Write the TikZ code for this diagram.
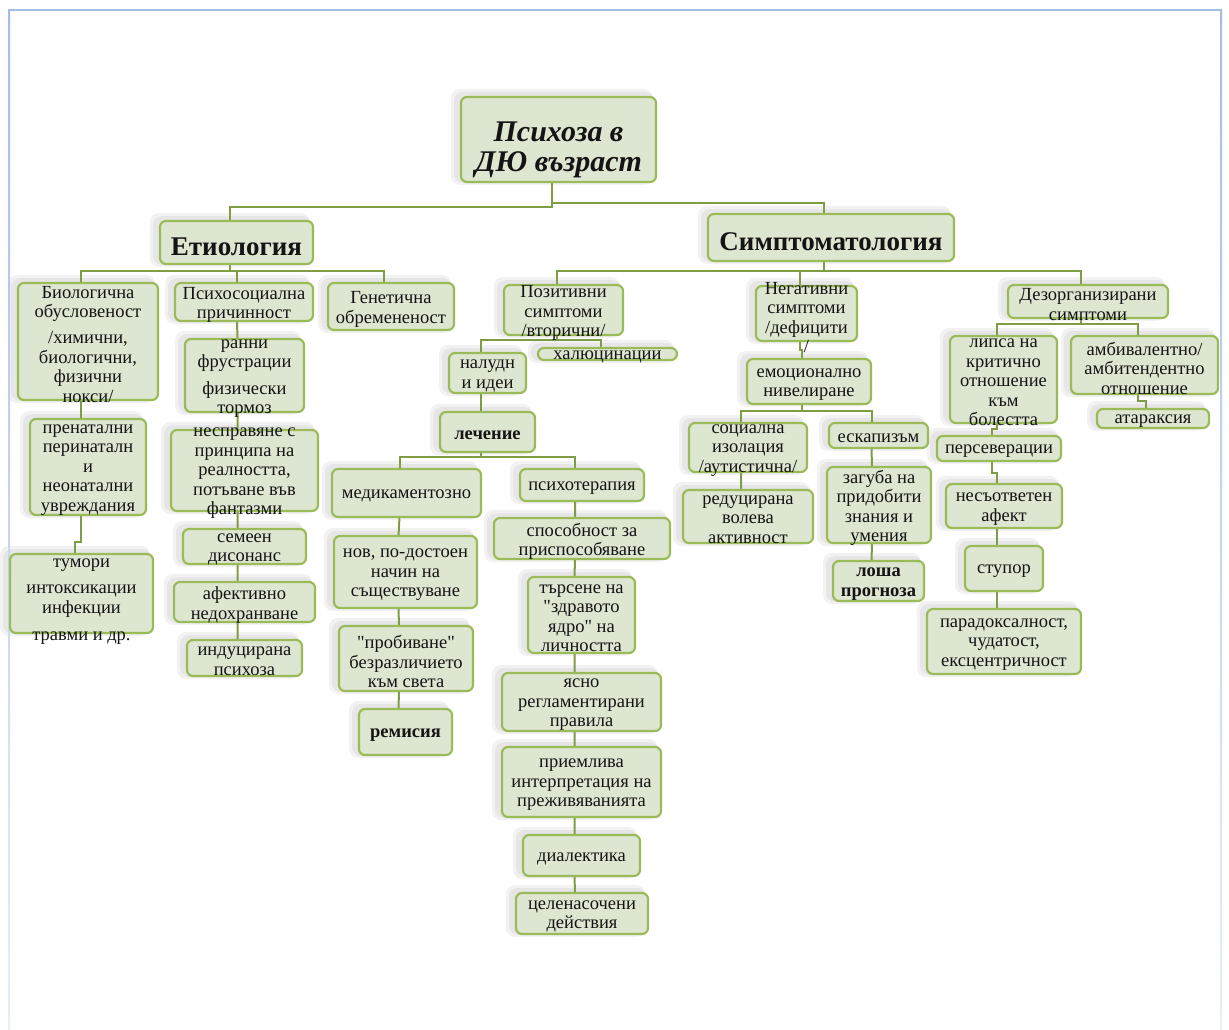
\documentclass[tikz,border=0pt]{standalone}
\usepackage{fontspec}
\setmainfont{Liberation Serif}
\newfontfamily\qfont{Liberation Serif}
\newcommand\dq{{\qfont"}}
\usetikzlibrary{calc}
\pgfdeclarelayer{sh}
\pgfdeclarelayer{bg}
\pgfsetlayers{sh,bg,main}
\definecolor{gfill}{HTML}{DDE6D0}
\definecolor{gline}{HTML}{9BBB59}
\definecolor{cline}{HTML}{7F9D45}
\definecolor{bord}{HTML}{A3BDE6}
\tikzset{
  gbx/.style={draw=gline, line width=2.2pt, fill=gfill, rounded corners=6pt, inner sep=0pt, outer sep=0pt},
  txt/.style={align=center, inner sep=0pt, text=black!92, yshift=-3pt, font=\fontsize{18.5}{19.5}\selectfont},
  btxt/.style={font=\fontsize{18.5}{19.5}\selectfont\bfseries},
  conn/.style={draw=cline, line width=2pt},
  shc/.style={fill=black, rounded corners=9pt}
}
\newcommand\gb[7][]{%
  \begin{pgfonlayer}{sh}
    \fill[shc, opacity=.05] (#3-10,#4-8) rectangle (#5-3,#6+3);
    \fill[shc, opacity=.05] (#3-7,#4-5) rectangle (#5-2,#6+1);
  \end{pgfonlayer}
  \node[gbx, minimum width={#5-#3}, minimum height={#6-#4}] (#2) at ({(#3+#5)/2},{(#4+#6)/2}) {};
  \node[txt,#1] (#2-txt) at (#2.center) {#7};
  \coordinate (#2-t) at ([xshift=-7pt]#2.north);
  \coordinate (#2-b) at ([xshift=-7pt]#2.south);
}
\begin{document}
\begin{tikzpicture}[x=1pt,y=-1pt]
\useasboundingbox (0,0) rectangle (1229,1030);
% page border
\fill[bord] (8,9) rectangle (1222,11);
\shade[top color=bord, bottom color=bord!25] (8,10) rectangle (10,1030);
\shade[top color=bord, bottom color=bord!25] (1220,10) rectangle (1222,1030);

% top levels
\gb[yshift=-7pt, font=\fontsize{30}{30}\selectfont\bfseries\itshape]{title}{461}{97}{656}{182}{Психоза в\\ДЮ възраст}
\gb[yshift=-1pt, font=\fontsize{27}{28}\selectfont\bfseries]{etio}{160}{221}{313}{264}{Етиология}
\gb[yshift=-1pt, font=\fontsize{27}{28}\selectfont\bfseries]{sympt}{708}{214}{954}{261}{Симптоматология}

% etiology
\gb{bio}{18}{283}{158}{400}{Биологична\\обусловеност\\[6.5pt]/химични,\\биологични,\\физични\\нокси/}
\gb{psy}{175}{283}{313}{321}{Психосоциална\\причинност}
\gb{gen}{328}{283}{454}{330}{Генетична\\обремененост}
\gb{rani}{185}{339}{304}{412}{ранни\\фрустрации\\[7pt]физически\\тормоз}
\gb{nespr}{171}{430}{318}{511}{несправяне с\\принципа на\\реалността,\\потъване във\\фантазми}
\gb{semeen}{183}{529}{306}{564}{семеен\\дисонанс}
\gb{afekt}{174}{582}{315}{622}{афективно\\недохранване}
\gb{induc}{187}{640}{302}{676}{индуцирана\\психоза}
\gb{prenat}{30}{419}{146}{515}{пренатални\\перинатaлн\\и\\неонатални\\увреждания}
\gb[yshift=-5pt]{tumor}{10}{554}{153}{633}{тумори\\[7pt]интоксикации\\инфекции\\[8pt]травми и др.}

% positive
\gb{pos}{504}{285}{623}{335}{Позитивни\\симптоми\\/вторични/}
\gb{hal}{538}{348}{677}{360}{халюцинации}
\gb{nal}{449}{353}{526}{393}{налудн\\и идеи}
\gb[btxt]{lech}{440}{412}{535}{452}{лечение}
\gb{med}{332}{469}{481}{517}{медикаментозно}
\gb{psyt}{520}{469}{644}{501}{психотерапия}
\gb{nov}{334}{536}{477}{608}{нов, по-достоен\\начин на\\съществуване}
\gb{prob}{339}{626}{473}{691}{\dq пробиване\dq\\безразличието\\към света}
\gb[btxt]{rem}{359}{709}{452}{755}{ремисия}
\gb{spos}{494}{518}{670}{559}{способност за\\приспособяване}
\gb{tars}{528}{577}{635}{653}{търсене на\\\dq здравото\\ядро\dq{} на\\личността}
\gb{yasno}{502}{673}{661}{731}{ясно\\регламентирани\\правила}
\gb{priem}{502}{747}{661}{817}{приемлива\\интерпретация на\\преживяванията}
\gb{dial}{523}{835}{640}{876}{диалектика}
\gb{celen}{516}{893}{648}{934}{целенасочени\\действия}

% negative
\gb[yshift=-1pt]{neg}{756}{286}{857}{341}{Негативни\\симптоми\\/дефицити\\/}
\gb{emo}{747}{359}{871}{404}{емоционално\\нивелиране}
\gb{soc}{689}{423}{807}{472}{социална\\изолация\\/аутистична/}
\gb{esk}{829}{423}{928}{448}{ескапизъм}
\gb{red}{683}{490}{813}{543}{редуцирана\\волева\\активност}
\gb{zag}{827}{467}{931}{543}{загуба на\\придобити\\знания и\\умения}
\gb[btxt]{losha}{833}{561}{924}{601}{лоша\\прогноза}

% disorganized
\gb{dez}{1008}{285}{1168}{318}{Дезорганизирани\\симптоми}
\gb{lips}{950}{336}{1057}{423}{липса на\\критично\\отношение\\към\\болестта}
\gb{amb}{1071}{336}{1218}{394}{амбивалентно/\\амбитендентно\\отношение}
\gb{atar}{1097}{409}{1209}{428}{атараксия}
\gb{pers}{937}{436}{1061}{461}{персеверации}
\gb{nes}{946}{484}{1062}{528}{несъответен\\афект}
\gb{stup}{965}{546}{1043}{591}{ступор}
\gb{parad}{927}{609}{1081}{674}{парадоксалност,\\чудатост,\\ексцентричност}

\begin{pgfonlayer}{bg}
\draw[conn] (title-b) |- (etio-t |- 0,207) -- (etio-t);
\draw[conn] (title-b) |- (sympt-t |- 0,203) -- (sympt-t);
\draw[conn] (etio-b) -- (etio-b |- 0,271) (bio-t) |- (gen-t |- 0,271) -- (gen-t) (psy-t) -- (psy-t |- 0,271);
\draw[conn] (bio-b) -- (prenat-t);
\draw[conn] (prenat-b) |- (tumor-t |- 0,542) -- (tumor-t);
\draw[conn] (psy-b) -- (rani-t) (rani-b) -- (nespr-t) (nespr-b) -- (semeen-t) (semeen-b) -- (afekt-t) (afekt-b) -- (induc-t);
\draw[conn] (sympt-b) -- (sympt-b |- 0,271) (pos-t) |- (dez-t |- 0,271) -- (dez-t) (neg-t) -- (neg-t |- 0,271);
\draw[conn] (pos-b) -- (pos-b |- 0,340) (nal-t) |- (hal-t |- 0,340) -- (hal-t);
\draw[conn] (nal-b) -- (lech-t);
\draw[conn] (lech-b) -- (lech-b |- 0,457) (med-t) |- (psyt-t |- 0,457) -- (psyt-t);
\draw[conn] (med-b) -- (nov-t) (nov-b) -- (prob-t) (prob-b) -- (rem-t);
\draw[conn] (psyt-b) -- (spos-t) (spos-b) -- (tars-t) (tars-b) -- (yasno-t) (yasno-b) -- (priem-t) (priem-b) -- (dial-t) (dial-b) -- (celen-t);
\draw[conn] (neg-b) |- (emo-t |- 0,350) -- (emo-t);
\draw[conn] (emo-b) -- (emo-b |- 0,411) (soc-t) |- (esk-t |- 0,411) -- (esk-t);
\draw[conn] (soc-b) -- (red-t) (esk-b) -- (zag-t) (zag-b) -- (losha-t);
\draw[conn] (dez-b) -- (dez-b |- 0,324) (lips-t) |- (amb-t |- 0,324) -- (amb-t);
\draw[conn] (amb-b) |- (atar-t |- 0,401) -- (atar-t);
\draw[conn] (lips-b) |- (pers-t |- 0,429) -- (pers-t);
\draw[conn] (pers-b) |- (nes-t |- 0,473) -- (nes-t);
\draw[conn] (nes-b) -- (stup-t) (stup-b) -- (parad-t);
\end{pgfonlayer}
\end{tikzpicture}
\end{document}
